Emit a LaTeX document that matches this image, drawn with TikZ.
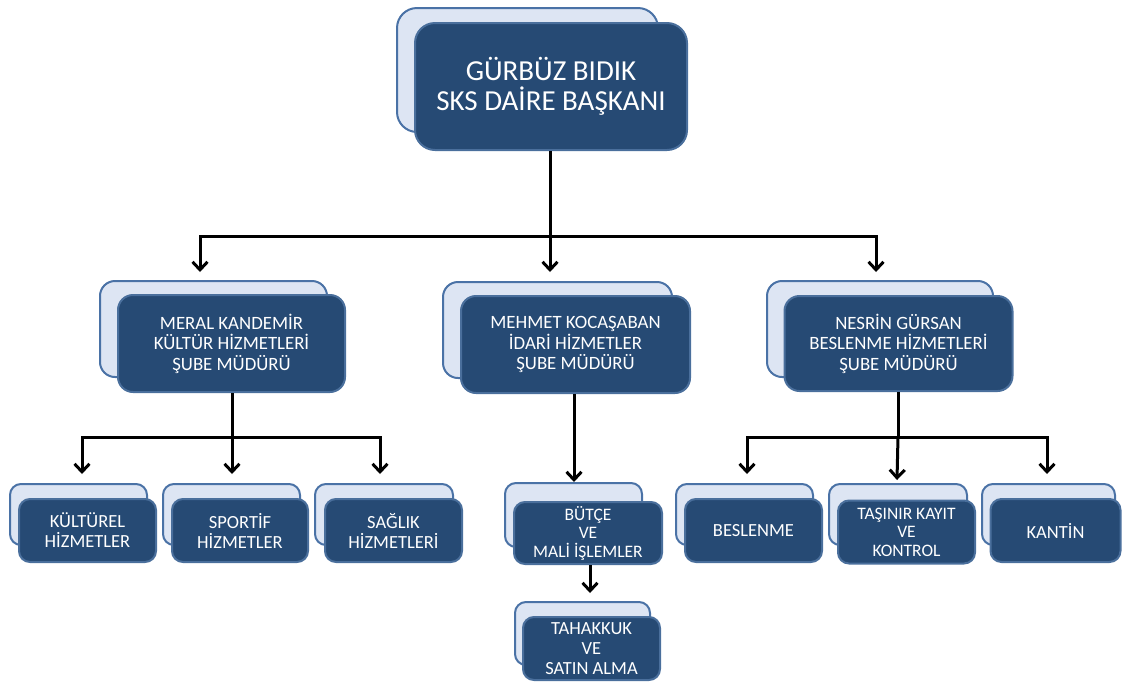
\documentclass[tikz,border=0pt]{standalone}
\usepackage{fontspec}
\setmainfont{Carlito}
\usetikzlibrary{arrows.meta}
\definecolor{frontfill}{HTML}{264A74}
\definecolor{frontline}{HTML}{4A6F9C}
\definecolor{backfill}{HTML}{DDE5F3}
\definecolor{backline}{HTML}{4A72A6}
\tikzset{
  backbox/.style={draw=backline, fill=backfill, line width=2pt, inner sep=0pt},
  frontbox/.style={draw=frontline, fill=frontfill, line width=2pt, inner sep=0pt, text=white, align=center},
  toplvl/.style={rounded corners=20pt, font=\fontsize{29}{30}\selectfont},
  midlvl/.style={rounded corners=15pt, font=\fontsize{18.8}{20.5}\selectfont},
  lowlvl/.style={rounded corners=11pt, font=\fontsize{18.5}{20}\selectfont},
  conn/.style={line width=3pt, black},
  arr/.style={conn, -{Straight Barb[length=8pt,width=15pt,line width=3pt]}}
}
\begin{document}
\begin{tikzpicture}[x=1pt,y=-1pt]
\useasboundingbox (0,0) rectangle (1122,681);
% top
\node[backbox,toplvl,minimum width=261pt,minimum height=124pt] (topb) at (527.5,70) {};
\node[frontbox,toplvl,minimum width=272pt,minimum height=127pt] (top) at (551,86.5) {GÜRBÜZ BIDIK\\SKS DAİRE BAŞKANI};
% level 2
\node[backbox,midlvl,minimum width=227pt,minimum height=96pt] (kulb) at (213.5,329) {};
\node[frontbox,midlvl,minimum width=227pt,minimum height=97pt] (kul) at (231.5,343.5) {MERAL KANDEMİR\\KÜLTÜR HİZMETLERİ\\ŞUBE MÜDÜRÜ};
\node[backbox,midlvl,minimum width=229pt,minimum height=96pt] (idab) at (557.5,330) {};
\node[frontbox,midlvl,minimum width=229pt,minimum height=97pt] (ida) at (575.5,344.5) {MEHMET KOCAŞABAN\\İDARİ HİZMETLER\\ŞUBE MÜDÜRÜ};
\node[backbox,midlvl,minimum width=226pt,minimum height=96pt] (besb) at (880,329) {};
\node[frontbox,midlvl,minimum width=228pt,minimum height=95pt] (bes) at (898.5,343.5) {NESRİN GÜRSAN\\BESLENME HİZMETLERİ\\ŞUBE MÜDÜRÜ};
% level 3 left
\node[backbox,lowlvl,minimum width=137pt,minimum height=61pt] (k1b) at (78.5,514.5) {};
\node[frontbox,lowlvl,minimum width=137pt,minimum height=63pt] (k1) at (87.5,530.5) {KÜLTÜREL\\HİZMETLER};
\node[backbox,lowlvl,minimum width=137pt,minimum height=61pt] (k2b) at (231.5,514.5) {};
\node[frontbox,lowlvl,minimum width=136pt,minimum height=63pt] (k2) at (240,530.5) {SPORTİF\\HİZMETLER};
\node[backbox,lowlvl,minimum width=138pt,minimum height=61pt] (k3b) at (384,514.5) {};
\node[frontbox,lowlvl,minimum width=137pt,minimum height=63pt] (k3) at (393.5,530.5) {SAĞLIK\\HİZMETLERİ};
% level 3 middle
\node[backbox,lowlvl,minimum width=137pt,minimum height=64pt] (i1b) at (573.5,515) {};
\node[frontbox,lowlvl,minimum width=148pt,minimum height=62pt,font=\fontsize{17.5}{18.5}\selectfont] (i1) at (588,533) {BÜTÇE\\VE\\MALİ İŞLEMLER};
\node[backbox,lowlvl,minimum width=135pt,minimum height=63pt] (i2b) at (582.5,633.5) {};
\node[frontbox,lowlvl,minimum width=137pt,minimum height=63pt,font=\fontsize{18.5}{20}\selectfont] (i2) at (591.5,648.5) {TAHAKKUK\\VE\\SATIN ALMA};
% level 3 right
\node[backbox,lowlvl,minimum width=137pt,minimum height=61pt] (b1b) at (744.5,514.5) {};
\node[frontbox,lowlvl,minimum width=137pt,minimum height=63pt] (b1) at (753.5,530.5) {BESLENME};
\node[backbox,lowlvl,minimum width=138pt,minimum height=61pt] (b2b) at (898,514.5) {};
\node[frontbox,lowlvl,minimum width=137pt,minimum height=63pt,font=\fontsize{17.5}{18.5}\selectfont] (b2) at (906.5,532) {TAŞINIR KAYIT\\VE\\KONTROL};
\node[backbox,lowlvl,minimum width=133pt,minimum height=61pt] (b3b) at (1048.5,514.5) {};
\node[frontbox,lowlvl,minimum width=130pt,minimum height=63pt] (b3) at (1055.5,530.5) {KANTİN};
% connectors level 1 -> 2
\coordinate (bus1) at (550,236);
\coordinate (t1) at (200,272);
\coordinate (t2) at (550,272);
\coordinate (t3) at (876,272);
\draw[conn] (top.south -| bus1) -- (bus1);
\draw[arr] (bus1) -| (t1);
\draw[arr] (bus1) -- (t2);
\draw[arr] (bus1) -| (t3);
% left subtree
\coordinate (bus2) at (232,437);
\coordinate (s1) at (82,474);
\coordinate (s2) at (232,474);
\coordinate (s3) at (380,474);
\draw[conn] (kul.south -| bus2) -- (bus2);
\draw[arr] (bus2) -| (s1);
\draw[arr] (bus2) -- (s2);
\draw[arr] (bus2) -| (s3);
% middle subtree
\coordinate (m1) at (574,482);
\draw[arr] (ida.south -| m1) -- (m1);
\coordinate (m2) at (590,593);
\draw[arr] (i1.south -| m2) -- (m2);
% right subtree
\coordinate (bus3) at (898,437);
\coordinate (r1) at (747,474);
\coordinate (r2) at (897,480);
\coordinate (r3) at (1047,474);
\draw[conn] (bes.south -| bus3) -- (bus3);
\draw[arr] (bus3) -| (r1);
\draw[arr] (bus3) -- (r2);
\draw[arr] (bus3) -| (r3);
\end{tikzpicture}
\end{document}
